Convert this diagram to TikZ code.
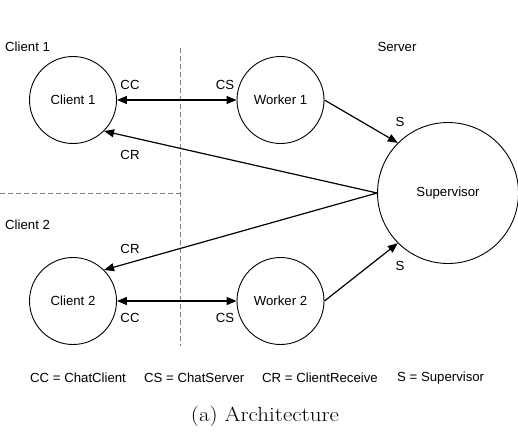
\documentclass[tikz,border=0pt]{standalone}
\usepackage{fontspec}
\setsansfont{Liberation Sans}
\usetikzlibrary{arrows.meta}
\begin{document}
\begin{tikzpicture}[x=1pt,y=-1pt,
  proc/.style={draw,circle,line width=0.9pt,inner sep=0pt,minimum size=87pt,font=\sffamily\fontsize{13.2}{15}\selectfont},
  lbl/.style={font=\sffamily\fontsize{13.2}{15}\selectfont,inner sep=0pt},
  conn/.style={line width=1.2pt,-{Triangle[length=10pt,width=8pt]}},
  both/.style={line width=1.2pt,{Triangle[length=10pt,width=8pt]}-{Triangle[length=10pt,width=8pt]}},
  sep/.style={draw=gray,line width=0.9pt,dash pattern=on 5pt off 3pt}]
\useasboundingbox (0,0) rectangle (518,432);
% separators
\coordinate (vtop) at (180,48);
\coordinate (vbot) at (180,346);
\coordinate (hleft) at (0,193);
\coordinate (hright) at (180,193);
\draw[sep] (vtop) -- (vbot);
\draw[sep] (hleft) -- (hright);
% nodes
\node[proc] (c1) at (73,100) {Client 1};
\node[proc] (w1) at (280.5,100) {Worker 1};
\node[proc] (c2) at (73,301) {Client 2};
\node[proc] (w2) at (280.5,301) {Worker 2};
\node[proc,minimum size=141pt] (sup) at (448,193) {Supervisor};
% region labels
\node[lbl,anchor=west] (lc1) at (5,47) {Client 1};
\node[lbl] (ls) at (397,47) {Server};
\node[lbl,anchor=west] (lc2) at (5,225) {Client 2};
% connectors
\draw[both] (c1) -- (w1);
\draw[both] (c2) -- (w2);
\draw[conn] (sup.west) -- (c1.south east);
\draw[conn] (sup.west) -- (c2.north east);
\draw[conn] (w1.east) -- (sup.north west);
\draw[conn] (w2.east) -- (sup.south west);
% port labels
\node[lbl] (cc1) at (130,85) {CC};
\node[lbl] (cs1) at (225,85) {CS};
\node[lbl] (cr1) at (130,155) {CR};
\node[lbl] (s1) at (400,122) {S};
\node[lbl] (cr2) at (130,249) {CR};
\node[lbl] (cc2) at (130,318) {CC};
\node[lbl] (cs2) at (225,318) {CS};
\node[lbl] (s2) at (400,266) {S};
% legend
\node[lbl,anchor=west] (leg1) at (30,378) {CC = ChatClient};
\node[lbl,anchor=west] (leg2) at (144,378) {CS = ChatServer};
\node[lbl,anchor=west] (leg3) at (262,378) {CR = ClientReceive};
\node[lbl,anchor=west] (leg4) at (397,378) {S = Supervisor};
% caption
\node[inner sep=0pt,font=\fontsize{20.5}{24}\selectfont] (cap) at (265,416) {\scalebox{1.12}[1]{(a) Architecture}};
\end{tikzpicture}
\end{document}
